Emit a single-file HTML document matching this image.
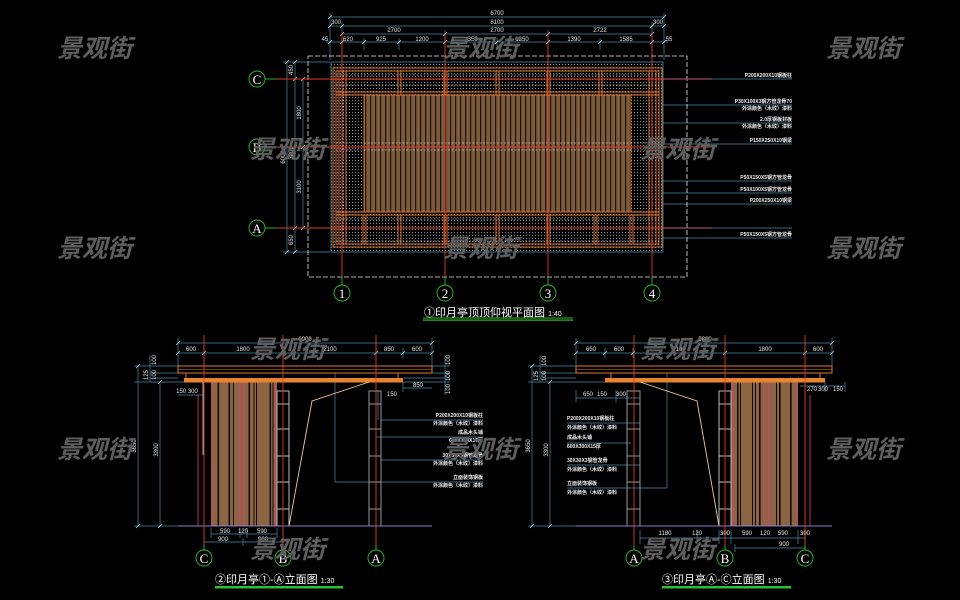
<!DOCTYPE html>
<html><head><meta charset="utf-8"><style>
html,body{margin:0;padding:0;background:#000;}
svg{display:block;}
.d{font-family:"Liberation Sans","Noto Sans CJK SC",sans-serif;font-size:6px;fill:#e6e6e6;}
.l{font-family:"Liberation Sans","Noto Sans CJK SC",sans-serif;font-size:5px;fill:#f0f0f0;font-weight:bold;}
.g{font-family:"Liberation Serif",serif;font-size:13px;fill:#fff;}
.wm{font-family:"Noto Sans CJK SC",sans-serif;font-size:25px;font-weight:bold;font-style:italic;fill:#5e5e5e;}
.t{font-family:"Liberation Sans","Noto Sans CJK SC",sans-serif;font-size:11px;fill:#fff;}
</style></head><body>
<svg width="960" height="600" viewBox="0 0 960 600" xmlns="http://www.w3.org/2000/svg">
<defs>
<pattern id="dots" width="3" height="3" patternUnits="userSpaceOnUse"><rect width="3" height="3" fill="#050505"/><rect x="1" y="1" width="1" height="1" fill="#8a8a8a"/></pattern>
<pattern id="wood" width="5" height="10" patternUnits="userSpaceOnUse"><rect width="5" height="10" fill="#7d5a3a"/><rect x="0" width="1.2" height="10" fill="#1c140a"/></pattern>
</defs>
<rect width="960" height="600" fill="#000"/>

<!-- ============ TOP PLAN ============ -->
<g stroke="#4a88aa" stroke-width="0.7" fill="none">
<line x1="330" y1="17" x2="664" y2="17"/>
<line x1="330" y1="26" x2="664" y2="26"/>
<line x1="342" y1="34" x2="652" y2="34"/>
<line x1="326" y1="42" x2="668" y2="42"/>
<line x1="330" y1="13" x2="330" y2="60"/>
<line x1="664" y1="13" x2="664" y2="60"/>
<line x1="342" y1="22" x2="342" y2="60"/>
<line x1="652" y1="22" x2="652" y2="60"/>
<line x1="364" y1="38" x2="364" y2="50"/>
<line x1="399" y1="38" x2="399" y2="50"/>
<line x1="445" y1="30" x2="445" y2="50"/>
<line x1="497" y1="38" x2="497" y2="50"/>
<line x1="548" y1="30" x2="548" y2="50"/>
<line x1="600" y1="38" x2="600" y2="50"/>
<line x1="287" y1="62" x2="287" y2="252"/>
<line x1="295" y1="62" x2="295" y2="252"/>
<line x1="303" y1="79" x2="303" y2="228"/>
<line x1="283" y1="62" x2="330" y2="62"/>
<line x1="283" y1="252" x2="330" y2="252"/>
<line x1="291" y1="79" x2="312" y2="79"/>
<line x1="291" y1="147" x2="312" y2="147"/>
<line x1="291" y1="228" x2="312" y2="228"/>
<line x1="331" y1="173" x2="663" y2="173"/>
<line x1="485" y1="62" x2="485" y2="252"/>
<line x1="663" y1="105" x2="792" y2="105"/>
<line x1="663" y1="123" x2="792" y2="123"/>
<line x1="663" y1="144" x2="792" y2="144"/>
<line x1="663" y1="181" x2="792" y2="181"/>
<line x1="663" y1="193" x2="792" y2="193"/>
<line x1="663" y1="204" x2="792" y2="204"/>
<line x1="663" y1="238" x2="792" y2="238"/>
<line x1="712" y1="79" x2="792" y2="79"/>
<line x1="712" y1="228" x2="792" y2="228"/>
</g>
<g stroke="#e6e6e6" stroke-width="0.7">
<path d="M328 19l4 -4M340 28l4 -4M650 28l4 -4M662 19l4 -4M328 28l4 -4M662 28l4 -4M340 36l4-4M443 36l4-4M546 36l4-4M650 36l4-4M328 44l4-4M340 44l4-4M362 44l4-4M397 44l4-4M443 44l4-4M495 44l4-4M546 44l4-4M598 44l4-4M650 44l4-4M662 44l4-4"/>
<path d="M285 64l4-4M285 254l4-4M293 64l4-4M293 81l4-4M293 149l4-4M293 230l4-4M293 254l4-4M301 81l4-4M301 149l4-4M301 230l4-4"/>
</g>
<g class="d" text-anchor="middle">
<text x="497" y="15">6700</text>
<text x="336" y="24">300</text><text x="497" y="24">8100</text><text x="658" y="24">300</text>
<text x="394" y="32">2700</text><text x="497" y="32">2700</text><text x="600" y="32">2722</text>
<text x="325" y="41">45</text><text x="348" y="41">620</text><text x="381" y="41">925</text><text x="422" y="41">1200</text><text x="471" y="41">1350</text><text x="522" y="41">1350</text><text x="574" y="41">1390</text><text x="626" y="41">1585</text><text x="669" y="41">55</text>
<text x="347" y="172">900</text><text x="497" y="172">6900</text><text x="645" y="172">900</text>
</g>
<g class="d" text-anchor="middle">
<text transform="translate(285,157) rotate(-90)">6000</text>
<text transform="translate(293,70) rotate(-90)">450</text>
<text transform="translate(293,153) rotate(-90)">3000</text>
<text transform="translate(293,240) rotate(-90)">650</text>
<text transform="translate(301,113) rotate(-90)">1800</text>
<text transform="translate(301,187) rotate(-90)">3100</text>
<text transform="translate(483,79) rotate(-90)">300</text>
<text transform="translate(483,153) rotate(-90)">3000</text>
<text transform="translate(483,230) rotate(-90)">1100</text>
</g>

<rect x="308" y="56" width="379" height="221" fill="none" stroke="#e6e6e6" stroke-width="0.8" stroke-dasharray="5 2"/>
<rect x="331" y="62" width="332" height="190" fill="url(#dots)" stroke="#4a88aa" stroke-width="0.8"/>
<rect x="364" y="95" width="267" height="117" fill="url(#wood)"/>
<g stroke="#e0782e" stroke-width="0.9" fill="none">
<rect x="333" y="68" width="329" height="179"/>
<rect x="336" y="71" width="323" height="173"/>
<line x1="336" y1="92" x2="659" y2="92"/>
<line x1="336" y1="95" x2="659" y2="95"/>
<line x1="336" y1="212" x2="659" y2="212"/>
<line x1="336" y1="215" x2="659" y2="215"/>
<line x1="364" y1="95" x2="364" y2="212"/>
<line x1="631" y1="95" x2="631" y2="212"/>
<line x1="339" y1="71" x2="339" y2="244"/>
<line x1="346" y1="71" x2="346" y2="244"/>
<line x1="649" y1="71" x2="649" y2="244"/>
<line x1="656" y1="71" x2="656" y2="244"/>
<path d="M398 71v24M401 71v24M444 71v24M447 71v24M496 71v24M499 71v24M547 71v24M550 71v24M599 71v24M602 71v24"/>
<path d="M363 215v29M366 215v29M398 215v29M401 215v29M444 215v29M447 215v29M496 215v29M499 215v29M547 215v29M550 215v29M594 215v29M597 215v29M630 215v29M633 215v29"/>
</g>
<g stroke="#e6e6e6" stroke-width="0.6" stroke-dasharray="2 1.5" fill="none">
<line x1="336" y1="75" x2="659" y2="75"/>
<line x1="336" y1="85" x2="659" y2="85"/>
<line x1="336" y1="219" x2="659" y2="219"/>
<line x1="336" y1="241" x2="659" y2="241"/>
<line x1="336" y1="143" x2="659" y2="143"/>
<line x1="336" y1="150" x2="659" y2="150"/>
<line x1="343" y1="71" x2="343" y2="244"/>
<line x1="652" y1="71" x2="652" y2="244"/>
</g>
<g stroke="#e03a2a" stroke-width="0.9">
<line x1="342" y1="33" x2="342" y2="277"/>
<line x1="445" y1="33" x2="445" y2="277"/>
<line x1="548" y1="33" x2="548" y2="277"/>
<line x1="652" y1="33" x2="652" y2="277"/>
<line x1="277" y1="79" x2="712" y2="79"/>
<line x1="277" y1="147" x2="712" y2="147"/>
<line x1="277" y1="228" x2="712" y2="228"/>
</g>
<g stroke="#9a4a6a" stroke-width="1.2"><line x1="663" y1="79" x2="712" y2="79"/><line x1="663" y1="228" x2="712" y2="228"/></g>
<g stroke="#2fc02f" stroke-width="0.9" fill="none">
<line x1="342" y1="277" x2="342" y2="285"/><line x1="445" y1="277" x2="445" y2="285"/><line x1="548" y1="277" x2="548" y2="285"/><line x1="652" y1="277" x2="652" y2="285"/>
<line x1="265" y1="79" x2="277" y2="79"/><line x1="265" y1="147" x2="277" y2="147"/><line x1="265" y1="228" x2="277" y2="228"/>
<circle cx="342" cy="293" r="8"/><circle cx="445" cy="293" r="8"/><circle cx="548" cy="293" r="8"/><circle cx="652" cy="293" r="8"/>
<circle cx="257" cy="79" r="8"/><circle cx="257" cy="147" r="8"/><circle cx="257" cy="228" r="8"/>
</g>
<g class="g" text-anchor="middle">
<text x="342" y="298">1</text><text x="445" y="298">2</text><text x="548" y="298">3</text><text x="652" y="298">4</text>
<text x="257" y="84">C</text><text x="257" y="152">B</text><text x="257" y="233">A</text>
</g>
<g class="l" text-anchor="end">
<text x="792" y="77">P200X200X10钢板柱</text>
<text x="792" y="103">P30X100X3钢方管龙骨70</text>
<text x="792" y="110">外涂颜色（木纹）漆料</text>
<text x="792" y="121">2.0厚钢板封板</text>
<text x="792" y="128">外涂颜色（木纹）漆料</text>
<text x="792" y="142">P150X250X10钢梁</text>
<text x="792" y="179">P50X150X5钢方管龙骨</text>
<text x="792" y="191">P50X100X5钢方管龙骨</text>
<text x="792" y="202">P200X250X10钢梁</text>
<text x="792" y="236">P50X150X5钢方管龙骨</text>
</g>
<text class="t" x="424" y="316">①印月亭顶顶仰视平面图 <tspan font-size="7">1:40</tspan></text>
<rect x="423" y="317.5" width="150" height="1" fill="#2fc02f"/>
<rect x="423" y="319.5" width="150" height="1.2" fill="#2fc02f"/>

<!-- ============ ELEVATION 2 ============ -->
<g stroke="#4a88aa" stroke-width="0.7" fill="none">
<line x1="178" y1="343" x2="432" y2="343"/>
<line x1="178" y1="353" x2="432" y2="353"/>
<path d="M178 338v28M204 348v10M283 348v10M376 348v10M403 348v10M432 338v28"/>
<line x1="138" y1="366" x2="138" y2="526"/>
<line x1="160" y1="382" x2="160" y2="526"/>
<path d="M134 366h44M150 373h28M150 378h28M134 382h50M134 526h44"/>
<line x1="150" y1="355" x2="150" y2="382"/>
<line x1="445" y1="355" x2="445" y2="395"/>
<path d="M432 366h18M432 373h18M403 378h47M403 382h47M403 388h29"/>
<line x1="403" y1="382" x2="403" y2="392"/>
<path d="M178 395h26M204 388v12"/>
<path d="M211 534h66M204 542h79M211 528v10M277 528v10M240 528v10M247 528v10M204 530v16M243 538v8M283 530v16"/>
<path d="M381 420h102M376 437h107M381 460h102M335 482h148M335 373v109M378 391v29"/>
</g>
<g stroke="#e6e6e6" stroke-width="0.6"><path d="M176 345l4-4M202 355l4-4M281 355l4-4M374 355l4-4M401 355l4-4M430 345l4-4M176 355l4-4M430 355l4-4M136 368l4-4M136 528l4-4M158 384l4-4M158 528l4-4"/></g>
<g class="d" text-anchor="middle">
<text x="305" y="341">6900</text>
<text x="191" y="351">600</text><text x="243" y="351">1800</text><text x="330" y="351">2100</text><text x="389" y="351">850</text><text x="417" y="351">600</text>
<text x="187" y="393">150 300</text>
<text x="418" y="387">850</text><text x="392" y="396">150</text>
<text x="225" y="533">590</text><text x="243" y="533">120</text><text x="262" y="533">590</text>
<text x="223" y="541">900</text><text x="263" y="541">900</text>
<text transform="translate(136,446) rotate(-90)">3650</text>
<text transform="translate(158,450) rotate(-90)">3300</text>
<text transform="translate(156,360) rotate(-90)">100</text>
<text transform="translate(148,375) rotate(-90)">125</text>
<text transform="translate(156,375) rotate(-90)">100</text>
<text transform="translate(450,360) rotate(-90)">100</text>
<text transform="translate(450,376) rotate(-90)">100</text>
<text transform="translate(450,389) rotate(-90)">100</text>
</g>
<g class="l" text-anchor="end">
<text x="483" y="417">P200X200X10钢板柱</text><text x="483" y="425">外涂颜色（木纹）漆料</text>
<text x="483" y="434">成品木头铺</text><text x="483" y="442">600X300X15厚</text>
<text x="483" y="457">30X30X3钢管龙骨</text><text x="483" y="465">外涂颜色（木纹）漆料</text>
<text x="483" y="479">立面装饰钢板</text><text x="483" y="487">外涂颜色（木纹）漆料</text>
</g>
<rect x="211" y="382" width="66" height="144" fill="#8c6644"/>
<g fill="#120c06">
<rect x="217.5" y="382" width="1.6" height="144"/><rect x="228.5" y="382" width="1.6" height="144"/><rect x="233" y="382" width="1" height="144"/>
<rect x="248.5" y="382" width="1.6" height="144"/><rect x="253.5" y="382" width="1" height="144"/><rect x="256" y="382" width="1" height="144"/>
<rect x="269.5" y="382" width="1.6" height="144"/><rect x="272.5" y="382" width="1" height="144"/>
</g>
<g stroke="#e03a7a" stroke-width="0.8"><path d="M212 382v144M240 382v144M244 382v144M275 382v144M198 395v131"/></g>
<g stroke="#e0782e" stroke-width="1" fill="none">
<rect x="178" y="366" width="254" height="7"/>
<line x1="178" y1="369.5" x2="432" y2="369.5" stroke-width="0.5"/>
<line x1="186" y1="373" x2="186" y2="378"/><line x1="398" y1="373" x2="398" y2="378"/>
</g>
<rect x="184" y="378" width="219" height="4.5" fill="#e8842e"/>
<g stroke="#bbb" stroke-width="1" fill="none">
<rect x="277" y="391" width="12" height="135"/>
<path d="M277 404h12M277 429h12M277 456h12M277 482h12M277 509h12"/>
<rect x="369" y="391" width="12" height="135" stroke="#999"/>
<path d="M369 404h12M369 429h12M369 456h12M369 482h12M369 509h12" stroke="#999"/>
</g>
<polyline points="369,382 312,401 289,526" fill="none" stroke="#f2c8a0" stroke-width="0.9"/>
<line x1="178" y1="526" x2="432" y2="526" stroke="#8a7ad0" stroke-width="0.9"/>
<line x1="203" y1="382" x2="203" y2="455" stroke="#f0d0d0" stroke-width="0.8"/>
<g stroke="#e03a2a" stroke-width="0.9">
<line x1="204" y1="335" x2="204" y2="545"/><line x1="283" y1="335" x2="283" y2="545"/><line x1="376" y1="335" x2="376" y2="545"/>
</g>
<g stroke="#2fc02f" stroke-width="0.9" fill="none">
<path d="M204 545v5M283 545v5M376 545v5"/>
<circle cx="204" cy="558" r="8"/><circle cx="283" cy="558" r="8"/><circle cx="376" cy="558" r="8"/>
</g>
<g class="g" text-anchor="middle"><text x="204" y="563">C</text><text x="283" y="563">B</text><text x="376" y="563">A</text></g>
<text class="t" x="215" y="583">②印月亭①-Ⓐ立面图 <tspan font-size="7">1:30</tspan></text>
<rect x="215" y="586" width="128" height="2.5" fill="#2fc02f"/>

<!-- ============ ELEVATION 3 ============ -->
<g stroke="#4a88aa" stroke-width="0.7" fill="none">
<line x1="576" y1="343" x2="832" y2="343"/>
<line x1="576" y1="353" x2="832" y2="353"/>
<path d="M576 338v28M605 348v10M633 348v10M725 348v10M805 348v10M832 338v28"/>
<line x1="532" y1="366" x2="532" y2="526"/>
<line x1="550" y1="382" x2="550" y2="526"/>
<path d="M528 366h48M540 373h36M540 378h36M528 382h77M528 526h48"/>
<line x1="540" y1="355" x2="540" y2="382"/>
<path d="M576 398h64M576 390v12M627 390v12M616 390v12"/>
<path d="M800 386h45M805 382v10M825 382v10M845 382v10"/>
<path d="M640 538h165M640 530v14M697 530v14M719 530v14M731 530v14M798 530v14M805 530v14M735 548h70M735 544v8"/>
<path d="M567 423h73M567 443h64M567 465h73M567 488h100M667 373v115"/>
</g>
<g stroke="#e6e6e6" stroke-width="0.6"><path d="M574 345l4-4M603 355l4-4M631 355l4-4M723 355l4-4M803 355l4-4M830 345l4-4M574 355l4-4M830 355l4-4M530 368l4-4M530 528l4-4M548 384l4-4M548 528l4-4"/></g>
<g class="d" text-anchor="middle">
<text x="705" y="341">5800</text>
<text x="591" y="351">650</text><text x="619" y="351">600</text><text x="679" y="351">2100</text><text x="765" y="351">1800</text><text x="818" y="351">600</text>
<text x="588" y="396">650</text><text x="602" y="396">150</text><text x="621" y="396">300</text>
<text x="812" y="391">270</text><text x="823" y="391">300</text><text x="838" y="391">150</text>
<text x="665" y="535">1180</text><text x="697" y="535">120</text><text x="725" y="535">300</text><text x="747" y="535">590</text><text x="765" y="535">120</text><text x="783" y="535">590</text><text x="805" y="535">300</text>
<text x="784" y="546">900</text>
<text transform="translate(530,446) rotate(-90)">3650</text>
<text transform="translate(548,450) rotate(-90)">3300</text>
<text transform="translate(546,361) rotate(-90)">100</text>
<text transform="translate(538,376) rotate(-90)">125</text>
<text transform="translate(546,376) rotate(-90)">100</text>
</g>
<g class="l">
<text x="567" y="420">P200X200X10钢板柱</text><text x="567" y="429">外涂颜色（木纹）漆料</text>
<text x="567" y="439">成品木头铺</text><text x="567" y="448">600X300X15厚</text>
<text x="567" y="462">30X30X3钢管龙骨</text><text x="567" y="471">外涂颜色（木纹）漆料</text>
<text x="567" y="485">立面装饰钢板</text><text x="567" y="494">外涂颜色（木纹）漆料</text>
</g>
<rect x="731" y="382" width="67" height="144" fill="#8c6644"/>
<g fill="#120c06">
<rect x="737" y="382" width="1.6" height="144"/><rect x="740" y="382" width="1" height="144"/>
<rect x="752" y="382" width="1" height="144"/><rect x="755" y="382" width="1" height="144"/><rect x="759" y="382" width="1.6" height="144"/>
<rect x="776" y="382" width="1" height="144"/><rect x="779" y="382" width="1.6" height="144"/><rect x="790" y="382" width="1.6" height="144"/>
</g>
<g stroke="#e03a7a" stroke-width="0.8"><path d="M733 382v144M765 382v144M769 382v144M797 382v144M810 395v131"/></g>
<g stroke="#e0782e" stroke-width="1" fill="none">
<rect x="576" y="366" width="256" height="7"/>
<line x1="576" y1="369.5" x2="832" y2="369.5" stroke-width="0.5"/>
<line x1="611" y1="373" x2="611" y2="378"/><line x1="820" y1="373" x2="820" y2="378"/>
</g>
<rect x="605" y="378" width="220" height="4.5" fill="#e8842e"/>
<g stroke="#bbb" stroke-width="1" fill="none">
<rect x="627" y="391" width="13" height="135" stroke="#999"/>
<path d="M627 404h13M627 429h13M627 456h13M627 482h13M627 509h13" stroke="#999"/>
<rect x="719" y="391" width="12" height="135"/>
<path d="M719 404h12M719 429h12M719 456h12M719 482h12M719 509h12"/>
</g>
<polyline points="640,382 697,401 719,526" fill="none" stroke="#f2c8a0" stroke-width="0.9"/>
<line x1="576" y1="526" x2="832" y2="526" stroke="#8a7ad0" stroke-width="0.9"/>
<g stroke="#e03a2a" stroke-width="0.9">
<line x1="634" y1="335" x2="634" y2="545"/><line x1="725" y1="335" x2="725" y2="545"/><line x1="805" y1="335" x2="805" y2="545"/>
</g>
<g stroke="#2fc02f" stroke-width="0.9" fill="none">
<path d="M634 545v5M725 545v5M805 545v5"/>
<circle cx="634" cy="558" r="8"/><circle cx="725" cy="558" r="8"/><circle cx="805" cy="558" r="8"/>
</g>
<g class="g" text-anchor="middle"><text x="634" y="563">A</text><text x="725" y="563">B</text><text x="805" y="563">C</text></g>
<text class="t" x="662" y="583">③印月亭Ⓐ-Ⓒ立面图 <tspan font-size="7">1:30</tspan></text>
<rect x="662" y="586" width="129" height="2.5" fill="#2fc02f"/>

<!-- ============ WATERMARKS ============ -->
<g class="wm">
<text x="57" y="57">景观街</text><text x="443" y="57">景观街</text><text x="826" y="57">景观街</text>
<text x="250" y="158">景观街</text><text x="640" y="158">景观街</text>
<text x="57" y="257">景观街</text><text x="443" y="257">景观街</text><text x="826" y="257">景观街</text>
<text x="250" y="358">景观街</text><text x="640" y="358">景观街</text>
<text x="57" y="458">景观街</text><text x="443" y="458">景观街</text><text x="826" y="458">景观街</text>
<text x="250" y="558">景观街</text><text x="640" y="558">景观街</text>
</g>
</svg>
</body></html>
